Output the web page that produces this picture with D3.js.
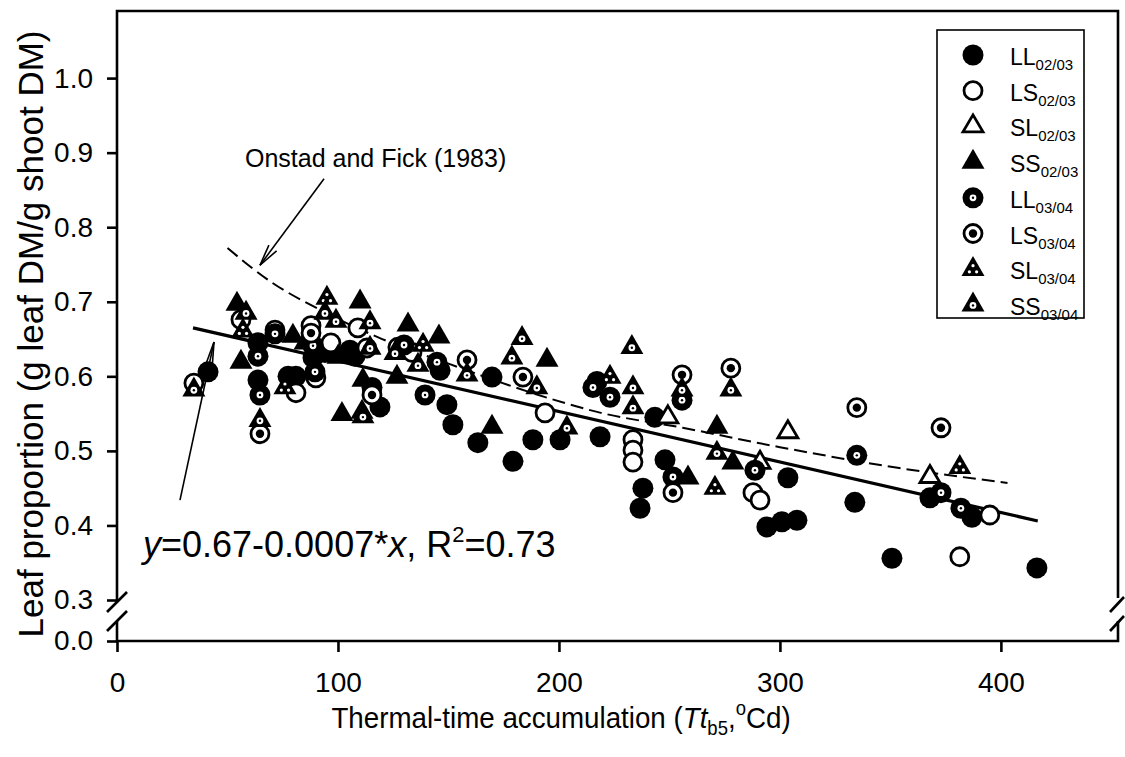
<!DOCTYPE html>
<html><head><meta charset="utf-8">
<script src="https://cdn.jsdelivr.net/npm/d3@7"></script>
<style>body{margin:0;background:#fff} svg{display:block} text{font-family:"Liberation Sans",Arial,Helvetica,sans-serif;fill:#000}</style>
</head><body><svg id="c" width="1125" height="757"></svg>
<script>
// ---------- data ----------
const xTicks = [0, 100, 200, 300, 400];
const yTicksUpper = [0.3, 0.4, 0.5, 0.6, 0.7, 0.8, 0.9, 1.0];
const yTicksLower = [0.0];

const legendMain = ["LL","LS","SL","SS","LL","LS","SL","SS"];
const legendSub  = ["02/03","02/03","02/03","02/03","03/04","03/04","03/04","03/04"];

const LL0203_x = [41.2, 63.8, 63.8, 77.4, 81.0, 88.7, 94.1, 105.4, 107.7, 115.4, 119.0, 146.2, 149.3, 152.0, 163.3, 169.7, 179.2, 188.2, 200.5, 217.2, 218.6, 243.4, 248.0, 238.0, 236.7, 294.1, 300.9, 307.7, 303.6, 333.9, 350.7, 367.9, 386.9, 416.3];
const LL0203_y = [0.606, 0.645, 0.595, 0.600, 0.600, 0.625, 0.632, 0.635, 0.627, 0.585, 0.559, 0.608, 0.562, 0.535, 0.511, 0.599, 0.486, 0.515, 0.515, 0.593, 0.519, 0.545, 0.488, 0.450, 0.423, 0.398, 0.405, 0.407, 0.464, 0.431, 0.356, 0.437, 0.411, 0.343];

const LS0203_x = [34.8, 56.1, 71.5, 81.0, 87.8, 90.0, 96.8, 109.0, 127.1, 133.5, 193.7, 233.5, 233.5, 233.5, 287.8, 291.0, 381.4, 395.0];
const LS0203_y = [0.591, 0.676, 0.662, 0.578, 0.668, 0.598, 0.645, 0.665, 0.639, 0.632, 0.551, 0.515, 0.501, 0.485, 0.444, 0.434, 0.358, 0.414];

const SL0203_x = [303.6, 367.9, 249.3, 291.0];
const SL0203_y = [0.525, 0.465, 0.545, 0.484];

const SS0203_x = [54.3, 56.1, 79.6, 85.1, 100.0, 101.8, 110.0, 111.3, 126.7, 131.7, 145.7, 169.7, 194.6, 258.4, 271.5, 278.7];
const SS0203_y = [0.697, 0.619, 0.654, 0.645, 0.626, 0.549, 0.700, 0.595, 0.599, 0.669, 0.653, 0.532, 0.622, 0.464, 0.532, 0.484];

const LL0304_x = [63.8, 64.7, 71.5, 88.7, 89.6, 144.8, 129.9, 139.4, 215.4, 223.1, 255.7, 251.6, 288.7, 334.8, 372.9, 381.9];
const LL0304_y = [0.627, 0.575, 0.657, 0.641, 0.606, 0.619, 0.642, 0.575, 0.585, 0.572, 0.568, 0.465, 0.474, 0.494, 0.444, 0.423];

const LS0304_x = [64.7, 87.8, 113.1, 115.4, 158.4, 183.7, 255.7, 277.8, 334.8, 372.9, 251.6];
const LS0304_y = [0.523, 0.658, 0.638, 0.575, 0.622, 0.599, 0.602, 0.611, 0.558, 0.531, 0.444];

const SL0304_x = [57.0, 76.0, 95.0, 110.9, 138.5, 223.1, 270.6, 381.4];
const SL0304_y = [0.661, 0.585, 0.705, 0.552, 0.642, 0.599, 0.450, 0.478];

const SS0304_x = [34.8, 58.4, 64.7, 94.1, 99.1, 114.5, 114.5, 111.3, 125.8, 136.2, 158.4, 178.7, 183.3, 190.0, 233.0, 233.5, 233.5, 255.7, 271.5, 277.8, 203.6];
const SS0304_y = [0.582, 0.685, 0.541, 0.685, 0.674, 0.672, 0.638, 0.546, 0.631, 0.615, 0.602, 0.625, 0.651, 0.585, 0.639, 0.585, 0.558, 0.582, 0.497, 0.582, 0.531];

// fitted regression line (end points)
const regX = [34.4, 416.7];
const regY = [0.665, 0.406];
// Onstad and Fick (1983) curve
const ofX = [50, 70, 92, 120, 150, 195, 219, 256, 300, 354, 403];
const ofY = [0.772, 0.726, 0.689, 0.650, 0.617, 0.571, 0.551, 0.531, 0.505, 0.477, 0.457];

// ---------- layout ----------
const svg = d3.select("#c");
const x = d3.scaleLinear().domain([0, 453]).range([117, 1118]);
const y = d3.scaleLinear().domain([0.3, 1.09]).range([600, 11]);
const yLow = d3.scaleLinear().domain([0, 0.03]).range([641, 619]);
const SW = 2.6;

const series = [
  {xs: LL0203_x, ys: LL0203_y, t: "fc"},
  {xs: LS0203_x, ys: LS0203_y, t: "oc"},
  {xs: SL0203_x, ys: SL0203_y, t: "ot"},
  {xs: SS0203_x, ys: SS0203_y, t: "ft"},
  {xs: LL0304_x, ys: LL0304_y, t: "cd"},
  {xs: LS0304_x, ys: LS0304_y, t: "rd"},
  {xs: SL0304_x, ys: SL0304_y, t: "tds"},
  {xs: SS0304_x, ys: SS0304_y, t: "td"}
];

const triPath = "M0,-13.3L11.5,6.7L-11.5,6.7Z";
function drawSym(g, t) {
  if (t === "fc") g.append("circle").attr("r", 10.5).attr("fill", "#000");
  if (t === "oc") g.append("circle").attr("r", 9).attr("fill", "#fff").attr("stroke", "#000").attr("stroke-width", 2.8);
  if (t === "ot") g.append("path").attr("d", "M0,-11.5L10,5.5L-10,5.5Z").attr("fill", "#fff").attr("stroke", "#000").attr("stroke-width", 2.8).attr("stroke-linejoin", "miter");
  if (t === "ft") g.append("path").attr("d", triPath).attr("fill", "#000");
  if (t === "cd") {
    g.append("circle").attr("r", 10.5).attr("fill", "#000");
    g.append("circle").attr("r", 3.4).attr("fill", "#fff");
    g.append("circle").attr("r", 1.2).attr("fill", "#000");
  }
  if (t === "rd") {
    g.append("circle").attr("r", 9).attr("fill", "#fff").attr("stroke", "#000").attr("stroke-width", 2.8);
    g.append("circle").attr("r", 4.2).attr("fill", "#000");
  }
  if (t === "tds") {
    g.append("path").attr("d", triPath).attr("fill", "#000");
    [[0,-3.5],[-3.6,2.6],[3.6,2.6]].forEach(p => g.append("circle").attr("cx", p[0]).attr("cy", p[1]).attr("r", 1.6).attr("fill", "#fff"));
  }
  if (t === "td") {
    g.append("path").attr("d", triPath).attr("fill", "#000");
    g.append("circle").attr("cy", 0.5).attr("r", 3.4).attr("fill", "#fff");
    g.append("circle").attr("cy", 0.5).attr("r", 1.2).attr("fill", "#000");
  }
}

// ---------- axes ----------
const yAxisG = svg.append("g").attr("transform", `translate(${x(0)},0)`)
  .call(d3.axisLeft(y).tickValues(yTicksUpper).tickSize(10).tickPadding(14).tickFormat(d3.format(".1f")));
const yAxisLowG = svg.append("g").attr("transform", `translate(${x(0)},0)`)
  .call(d3.axisLeft(yLow).tickValues(yTicksLower).tickSize(10).tickPadding(14).tickFormat(d3.format(".1f")));
const xAxisG = svg.append("g").attr("transform", `translate(0,${yLow(0)})`)
  .call(d3.axisBottom(x).tickValues(xTicks).tickSize(11).tickPadding(20));
[yAxisG, yAxisLowG, xAxisG].forEach(g => {
  g.select(".domain").remove();
  g.selectAll(".tick line").attr("stroke", "#000").attr("stroke-width", SW);
  g.selectAll(".tick text").attr("font-size", 28).attr("font-family", '"Liberation Sans",Arial,sans-serif').attr("fill", "#000");
});

// frame with breaks
const x0 = x.range()[0], x1 = x.range()[1];
const yTop = y.range()[1], yB1 = y.range()[0] + 2, yB2 = yLow.range()[1] + 2, yBot = yLow(0);
const frame = svg.append("g").attr("stroke", "#000").attr("stroke-width", SW).attr("fill", "none");
frame.append("path").attr("d", `M${x0},${yB1}V${yTop}H${x1}V${yB1 - 4}`);
frame.append("path").attr("d", `M${x0},${yB2}V${yBot}H${x1}V${yB2}`);
[yB1, yB2].forEach(yy => {
  frame.append("line").attr("x1", x0 - 10).attr("y1", yy + 10).attr("x2", x0 + 10).attr("y2", yy - 10);
  frame.append("line").attr("x1", x1 - 8).attr("y1", yy + 10).attr("x2", x1 + 6).attr("y2", yy - 5);
});

// ---------- lines ----------
const lineGen = d3.line().x(d => x(d[0])).y(d => y(d[1]));
svg.append("path").datum(ofX.map((v, i) => [v, ofY[i]]))
  .attr("d", lineGen.curve(d3.curveMonotoneX)).attr("fill", "none").attr("stroke", "#000")
  .attr("stroke-width", 2).attr("stroke-dasharray", "13,6");
svg.append("path").datum(regX.map((v, i) => [v, regY[i]]))
  .attr("d", d3.line().x(d => x(d[0])).y(d => y(d[1]))).attr("fill", "none").attr("stroke", "#000").attr("stroke-width", 3.2);

// ---------- points ----------
const pts = svg.append("g");
series.forEach(s => {
  s.xs.forEach((xv, i) => {
    const g = pts.append("g").attr("transform", `translate(${x(xv)},${y(s.ys[i])})`);
    drawSym(g, s.t);
  });
});

// ---------- annotations ----------
function arrow(xa, ya, xb, yb, len, spread) {
  const ax = x(xa), ay = y(ya), bx = x(xb), by = y(yb);
  const ang = Math.atan2(by - ay, bx - ax);
  const g = svg.append("g").attr("stroke", "#000").attr("stroke-width", 1.6).attr("fill", "none");
  g.append("line").attr("x1", ax).attr("y1", ay).attr("x2", bx).attr("y2", by);
  [-spread, spread].forEach(a => {
    g.append("line").attr("x1", bx).attr("y1", by)
      .attr("x2", bx - len * Math.cos(ang + a)).attr("y2", by - len * Math.sin(ang + a));
  });
}
arrow(93.7, 0.865, 64.7, 0.749, 22, 0.22);
arrow(28.5, 0.434, 43.9, 0.646, 22, 0.14);

svg.append("text").attr("x", 245).attr("y", 167).attr("font-size", 25).text("Onstad and Fick (1983)");

const eq = svg.append("text").attr("x", 143).attr("y", 557).attr("font-size", 36);
eq.append("tspan").attr("font-style", "italic").text("y");
eq.append("tspan").text("=0.67-0.0007*");
eq.append("tspan").attr("font-style", "italic").text("x");
eq.append("tspan").text(", R");
eq.append("tspan").attr("font-size", 22).attr("dy", -15).text("2");
eq.append("tspan").attr("dy", 15).text("=0.73");

// axis titles
const xt = svg.append("text").attr("transform", "translate(561,728) scale(0.925,1)").attr("font-size", 30).attr("text-anchor", "middle");
xt.append("tspan").text("Thermal-time accumulation (");
xt.append("tspan").attr("font-style", "italic").text("Tt");
xt.append("tspan").attr("font-size", 20).attr("dy", 7).text("b5");
xt.append("tspan").attr("dy", -7).text(",");
xt.append("tspan").attr("font-size", 20).attr("dy", -13).text("o");
xt.append("tspan").attr("dy", 13).text("Cd)");

svg.append("text").attr("transform", "translate(43,334) rotate(-90)").attr("font-size", 35)
  .attr("text-anchor", "middle").text("Leaf proportion (g leaf DM/g shoot DM)");

// ---------- legend ----------
const lg = svg.append("g");
lg.append("rect").attr("x", 937).attr("y", 30).attr("width", 147).attr("height", 288)
  .attr("fill", "#fff").attr("stroke", "#000").attr("stroke-width", 1.6);
series.forEach((s, i) => {
  const yy = 55 + i * 35.7;
  const g = lg.append("g").attr("transform", `translate(973,${yy})`);
  drawSym(g, s.t);
  const t = lg.append("text").attr("x", 1010).attr("y", yy + 10).attr("font-size", 23);
  t.append("tspan").text(legendMain[i]);
  t.append("tspan").attr("font-size", 15).attr("dy", 5).text(legendSub[i]);
});
</script>
</body></html>
